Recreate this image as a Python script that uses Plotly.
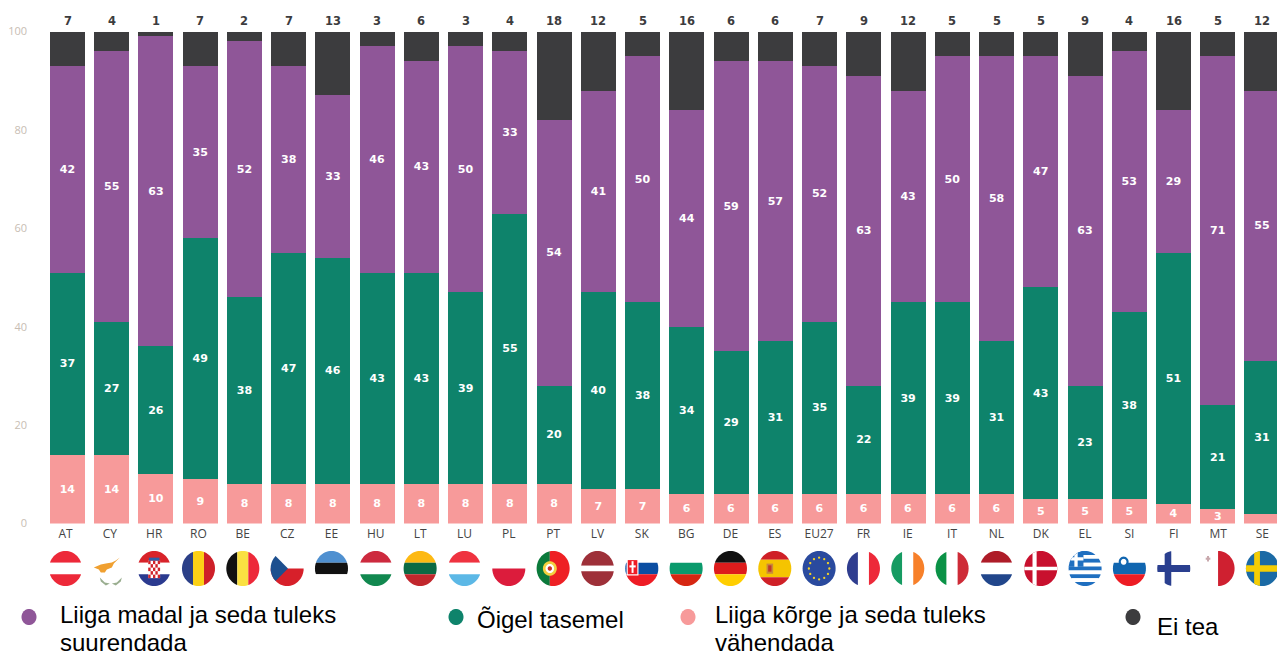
import math
import plotly.graph_objects as go

countries = ["AT","CY","HR","RO","BE","CZ","EE","HU","LT","LU","PL","PT","LV","SK","BG","DE","ES","EU27","FR","IE","IT","NL","DK","EL","SI","FI","MT","SE"]
too_high = [14,14,10,9,8,8,8,8,8,8,8,8,7,7,6,6,6,6,6,6,6,6,5,5,5,4,3,2]
right_level = [37,27,26,49,38,47,46,43,43,39,55,20,40,38,34,29,31,35,22,39,39,31,43,23,38,51,21,31]
too_low = [42,55,63,35,52,38,33,46,43,50,33,54,41,50,44,59,57,52,63,43,50,58,47,63,53,29,71,55]
dont_know = [7,4,1,7,2,7,13,3,6,3,4,18,12,5,16,6,6,7,9,12,5,5,5,9,4,16,5,12]
y_ticks = [0,20,40,60,80,100]

PURPLE, GREEN, PINK, DARK = "#8f5698", "#0e836b", "#f79a9a", "#3c3c3e"
W, H = 1277, 656
BAR0, PITCH, BARW = 67.5, 44.24, 35
PLOT_L, PLOT_R, PLOT_T, PLOT_B = 45, 1277, 31.5, 523.5
FLAG0, FLAGP, FLAGY, RX, RY = 65.5, 44.33, 568.5, 16.5, 17.5
xs = list(range(len(countries)))
tick_pos = [(FLAG0 + FLAGP*i - BAR0)/PITCH for i in xs]

def R(x0, y0, x1, y1):
    return [(x0, y0), (x1, y0), (x1, y1), (x0, y1)]

def circle(cx=0, cy=0, r=1, n=48):
    return [(cx + r*math.cos(2*math.pi*k/n), cy + r*math.sin(2*math.pi*k/n)) for k in range(n)]

def clip(subject, clipper):
    gx = sum(p[0] for p in clipper)/len(clipper)
    gy = sum(p[1] for p in clipper)/len(clipper)
    out = subject
    for i in range(len(clipper)):
        a, b = clipper[i], clipper[(i+1) % len(clipper)]
        side = lambda p: (b[0]-a[0])*(p[1]-a[1]) - (b[1]-a[1])*(p[0]-a[0])
        s0 = side((gx, gy))
        res = []
        for j in range(len(out)):
            p, q = out[j], out[(j+1) % len(out)]
            sp, sq = side(p)*s0, side(q)*s0
            if sp >= 0:
                res.append(p)
            if sp*sq < 0:
                t = sp/(sp-sq)
                res.append((p[0]+t*(q[0]-p[0]), p[1]+t*(q[1]-p[1])))
        out = res
        if not out:
            break
    return out

def hb(*cols, cuts=(-1/3, 1/3)):
    e = [-1, *cuts, 1]
    return [(c, R(-1, e[i], 1, e[i+1])) for i, c in enumerate(cols)]

def vb(*cols, cuts=(-1/3, 1/3)):
    e = [-1, *cuts, 1]
    return [(c, R(e[i], -1, e[i+1], 1)) for i, c in enumerate(cols)]

WH = "#ffffff"
hr_check = [("#ffffff", R(-.36, -.45, .36, .55))] + [
    ("#d2232a", R(-.36+.144*a, -.45+.2*b, -.36+.144*(a+1), -.45+.2*(b+1)))
    for a in range(5) for b in range(5) if (a+b) % 2 == 0]
eu_stars = [("#f5d327", circle(.62*math.cos(2*math.pi*k/12), .62*math.sin(2*math.pi*k/12), .07, 10)) for k in range(12)]
el_rows = [("#1f6fc0" if k % 2 == 0 else WH, R(-1, -1+k*2/9, 1, -1+(k+1)*2/9)) for k in range(9)]

flags = {
 "AT": hb("#ed2939", WH, "#ed2939"),
 "CY": [],
 "HR": hb("#d8232a", WH, "#2b3a8f") + hr_check + [("#2b5ea8", R(-.32, -.62, .32, -.45))],
 "RO": vb("#2b3f87", "#fcd116", "#ce2029"),
 "BE": vb("#111111", "#fae042", "#ed2939"),
 "CZ": [(WH, R(-1, -1, 1, 0)), ("#d7202a", R(-1, 0, 1, 1)), ("#1d4f8f", [(-1, -1), (.05, 0), (-1, 1)])],
 "EE": hb("#4f90d0", "#111111", WH),
 "HU": hb("#cd2a3e", WH, "#11884f"),
 "LT": hb("#fdb913", "#0b6a44", "#c1272d"),
 "LU": hb("#ef3340", WH, "#5cb8e6"),
 "PL": [(WH, R(-1, -1, 1, 0)), ("#dc1c3c", R(-1, 0, 1, 1))],
 "PT": vb("#0b7a3b", "#ee2024", cuts=(-.2,)) + [("#f4d03f", circle(-.2, 0, .42)), (WH, circle(-.2, 0, .26)), ("#c8312c", circle(-.2, 0, .13))],
 "LV": hb("#9e3039", WH, "#9e3039", cuts=(-.16, .16)),
 "SK": hb(WH, "#0b4ea2", "#ee1c25") + [(WH, R(-.92, -.55, -.2, .4)), ("#ee1c25", R(-.85, -.48, -.27, .33)), (WH, R(-.62, -.42, -.5, .25)), (WH, R(-.75, -.18, -.37, -.06))],
 "BG": hb(WH, "#0a9a6c", "#d62612"),
 "DE": hb("#111111", "#dd1c1c", "#ffce00"),
 "ES": hb("#cf2027", "#f5c400", "#cf2027", cuts=(-.5, .5)) + [("#c98a3a", R(-.5, -.28, -.1, .3)), ("#c0392b", R(-.4, -.18, -.2, .18))],
 "EU27": [("#2a4a9e", R(-1, -1, 1, 1))] + eu_stars,
 "FR": vb("#2f3d8f", WH, "#ed2939"),
 "IE": vb("#169b62", WH, "#f7802a"),
 "IT": vb("#0a9246", WH, "#ce2b37"),
 "NL": hb("#ae1c28", WH, "#21468b"),
 "DK": [("#c8102e", R(-1, -1, 1, 1)), (WH, R(-.5, -1, -.25, 1)), (WH, R(-1, -.1, 1, .1))],
 "EL": el_rows + [("#1f6fc0", R(-1, -1, -.1, -.1)), (WH, R(-.65, -1, -.45, -.1)), (WH, R(-1, -.65, -.1, -.45))],
 "SI": hb(WH, "#1166b0", "#ed1c24") + [("#1166b0", circle(-.35, -.38, .3)), (WH, circle(-.35, -.38, .17))],
 "FI": [(WH, R(-1, -1, 1, 1)), ("#2a3f8f", R(-.55, -1, -.15, 1)), ("#2a3f8f", R(-1, -.2, 1, .2))],
 "MT": [(WH, R(-1, -1, 0, 1)), ("#cf2030", R(0, -1, 1, 1)), ("#c9a9ad", R(-.75, -.62, -.47, -.5)), ("#c9a9ad", R(-.67, -.72, -.55, -.4))],
 "SE": [("#1b6aa5", R(-1, -1, 1, 1)), ("#f5cd05", R(-.5, -1, -.15, 1)), ("#f5cd05", R(-1, -.18, 1, .18))],
}

def paper(px, py):
    return px/W, 1-py/H

def path(points):
    c = [paper(*p) for p in points]
    return "M" + " L".join(f"{x:.5f},{y:.5f}" for x, y in c) + " Z"

def poly_shape(points, color):
    return dict(type="path", xref="paper", yref="paper", path=path(points), fillcolor=color,
                line=dict(width=0), layer="above")

shapes = []
disc = circle(n=64)
for i, code in enumerate(countries):
    cx = FLAG0 + FLAGP*i
    for color, poly in flags[code]:
        pts = clip(disc, poly)
        if pts:
            shapes.append(poly_shape([(cx+x*RX, FLAGY+y*RY) for x, y in pts], color))

# Cyprus: island silhouette and olive branches, no disc
cy_x = FLAG0 + FLAGP*1 + 1
island = [(-17,-1),(-10,-4),(-5,-5),(1,-6),(5,-8),(9,-11),(3,-5),(1,-1),(-4,1),(-6,4),(-10,4),(-12,1)]
shapes.append(poly_shape([(cy_x+a, FLAGY+b) for a, b in island], "#f0a030"))
for sgn in (-1, 1):
    branch = [(sgn*1, 15), (sgn*6, 14), (sgn*11, 9), (sgn*10, 13), (sgn*5, 17)]
    shapes.append(poly_shape([(cy_x+a, FLAGY+b) for a, b in branch], "#9aae90"))

# Legend swatches and labels
legend = [
    (29, 617, PURPLE, [(60, 614, "Liiga madal ja seda tuleks"), (60, 642, "suurendada")]),
    (456, 617, GREEN, [(477, 619, "Õigel tasemel")]),
    (688, 617, PINK, [(715, 614, "Liiga kõrge ja seda tuleks"), (715, 642, "vähendada")]),
    (1133, 617, DARK, [(1157, 626, "Ei tea")]),
]
annotations = []
for lx, ly, col, lines in legend:
    shapes.append(poly_shape([(lx+7.5*x, ly+8*y) for x, y in circle()], col))
    for tx, ty, t in lines:
        ax, ay = paper(tx, ty)
        annotations.append(dict(x=ax, y=ay, xref="paper", yref="paper", text=t, showarrow=False,
                                xanchor="left", yanchor="middle", xshift=-2,
                                font=dict(family="Liberation Sans", size=24, color="#000000")))

LABEL_FONT = dict(family="DejaVu Sans", size=11, color="#ffffff", weight="bold")

def bar(vals, color, name, labelled=True):
    return go.Bar(x=xs, y=vals, name=name, width=BARW/PITCH, marker=dict(color=color, line=dict(width=0)),
                  text=[str(v) if (labelled and v >= 3) else "" for v in vals],
                  textposition="inside", insidetextanchor="middle", textangle=0,
                  insidetextfont=LABEL_FONT, constraintext="none", cliponaxis=False)

totals = [a+b+c+d for a, b, c, d in zip(too_high, right_level, too_low, dont_know)]
for i, v, t in zip(xs, dont_know, totals):
    annotations.append(dict(x=i, y=t, xref="x", yref="y", text=str(v), showarrow=False, yanchor="bottom",
                            yshift=1, font=dict(family="DejaVu Sans", size=11.5, color=DARK, weight="bold")))

fig = go.Figure([
    bar(too_high, PINK, "Liiga kõrge ja seda tuleks vähendada"),
    bar(right_level, GREEN, "Õigel tasemel"),
    bar(too_low, PURPLE, "Liiga madal ja seda tuleks suurendada"),
    bar(dont_know, DARK, "Ei tea", labelled=False),
])

fig.update_layout(
    width=W, height=H, margin=dict(l=0, r=0, t=0, b=0), barmode="stack", showlegend=False,
    paper_bgcolor="#ffffff", plot_bgcolor="#ffffff", shapes=shapes, annotations=annotations,
    xaxis=dict(domain=[PLOT_L/W, PLOT_R/W], range=[(PLOT_L-BAR0)/PITCH, (PLOT_R-BAR0)/PITCH],
               tickmode="array", tickvals=tick_pos, ticktext=countries, showgrid=False, zeroline=False,
               showline=False, ticks="", automargin=False, ticklabelstandoff=1,
               tickfont=dict(family="Open Sans", size=12, color="#444444")),
    yaxis=dict(domain=[1-PLOT_B/H, 1-PLOT_T/H], range=[0, 100], tickmode="array", tickvals=y_ticks,
               showgrid=False, zeroline=False, showline=False, ticks="", automargin=False,
               ticklabelstandoff=17, tickfont=dict(family="Open Sans", size=11, color="#c8bdb3")),
)

fig.write_html("out.html", config=dict(displayModeBar=False),
               post_script="document.body.style.margin='0';document.body.style.overflow='hidden';")
